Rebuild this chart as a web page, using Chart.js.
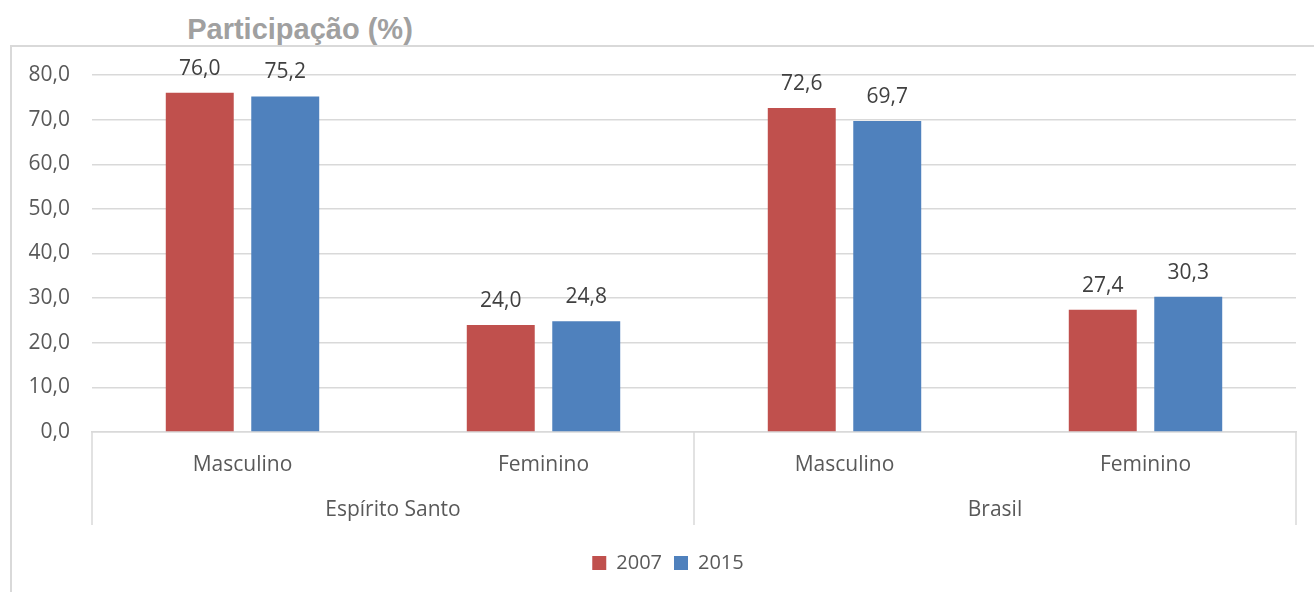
<!DOCTYPE html>
<html>
<head>
<meta charset="utf-8">
<script src="https://cdn.jsdelivr.net/npm/chart.js@4"></script>
<style>
  body { margin: 0; background: #fff; overflow: hidden; }
  #wrap { position: relative; width: 1314px; height: 592px; }
  #frame { position: absolute; left: 10px; top: 45px; width: 1400px; height: 700px;
           border-left: 2px solid #d9d9d9; border-top: 2px solid #d9d9d9; }
  #title { position: absolute; left: 0; width: 600px; top: 13px; text-align: center;
           font: bold 29px "Liberation Sans", Arial, sans-serif; color: #a0a0a0; }
  canvas { position: absolute; left: 0; top: 0; }
</style>
</head>
<body>
<div id="wrap">
  <div id="frame"></div>
  <div id="title">Participação (%)</div>
  <canvas id="chart" width="1314" height="592"></canvas>
</div>
<script>
const categories = ['Masculino', 'Feminino', 'Masculino', 'Feminino'];
const groups = ['Espírito Santo', 'Brasil'];
const values2007 = [76.0, 24.0, 72.6, 27.4];
const values2015 = [75.2, 24.8, 69.7, 30.3];
const yMax = 80;
const yStep = 10;

const fontFamily = '"Open Sans", sans-serif';
const fmt = v => v.toFixed(1).replace('.', ',');

// value labels above each bar
const valueLabels = {
  id: 'valueLabels',
  afterDatasetsDraw(chart) {
    const ctx = chart.ctx;
    ctx.save();
    ctx.font = '21px ' + fontFamily;
    ctx.fillStyle = '#404040';
    ctx.textAlign = 'center';
    ctx.textBaseline = 'alphabetic';
    chart.data.datasets.forEach((ds, i) => {
      chart.getDatasetMeta(i).data.forEach((bar, j) => {
        ctx.fillText(fmt(ds.data[j]), bar.x, bar.y - 18);
      });
    });
    ctx.restore();
  }
};

// second level of the category axis (regions + separators)
const groupAxis = {
  id: 'groupAxis',
  afterLayout(chart) {
    // legend sits a bit right of the canvas centre in the original
    chart.legend.left += 30;
  },
  afterDraw(chart) {
    const x = chart.scales.x;
    const ctx = chart.ctx;
    const half = (x.getPixelForValue(1) - x.getPixelForValue(0)) / 2;
    const top = x.top;
    const bottom = x.top + 93;
    ctx.save();
    ctx.strokeStyle = '#d9d9d9';
    ctx.lineWidth = 1.5;
    ctx.font = '21px ' + fontFamily;
    ctx.fillStyle = '#595959';
    ctx.textAlign = 'center';
    ctx.textBaseline = 'middle';
    groups.forEach((g, gi) => {
      const left = x.getPixelForValue(gi * 2) - half;
      const right = x.getPixelForValue(gi * 2 + 1) + half;
      ctx.beginPath();
      ctx.moveTo(left, top);
      ctx.lineTo(left, bottom);
      if (gi === groups.length - 1) {
        ctx.moveTo(right, top);
        ctx.lineTo(right, bottom);
      }
      ctx.stroke();
      ctx.fillText(g, (left + right) / 2, top + 78);
    });
    ctx.restore();
  }
};

new Chart(document.getElementById('chart'), {
  type: 'bar',
  data: {
    labels: categories,
    datasets: [
      { label: '2007', data: values2007, backgroundColor: '#c0504d' },
      { label: '2015', data: values2015, backgroundColor: '#4f81bd' }
    ]
  },
  options: {
    responsive: false,
    animation: false,
    categoryPercentage: 0.568,
    barPercentage: 0.795,
    layout: { padding: { left: 10, right: 18, top: 75, bottom: 9 } },
    plugins: {
      legend: {
        position: 'bottom',
        labels: {
          boxWidth: 14, boxHeight: 14, padding: 12,
          color: '#595959',
          font: { family: fontFamily, size: 20 }
        }
      },
      tooltip: { enabled: false }
    },
    scales: {
      x: {
        grid: { display: false },
        border: { color: '#d9d9d9', width: 1.5 },
        ticks: { color: '#595959', padding: 12, font: { family: fontFamily, size: 21 } },
        afterFit(scale) { scale.height = 109; }
      },
      y: {
        min: 0, max: yMax,
        border: { display: false },
        grid: { color: '#d9d9d9', lineWidth: 1.5, drawTicks: false },
        ticks: {
          stepSize: yStep, padding: 22, color: '#595959',
          font: { family: fontFamily, size: 21 },
          callback: v => fmt(v)
        },
        afterFit(scale) { scale.width = 82; }
      }
    }
  },
  plugins: [valueLabels, groupAxis]
});
</script>
</body>
</html>
